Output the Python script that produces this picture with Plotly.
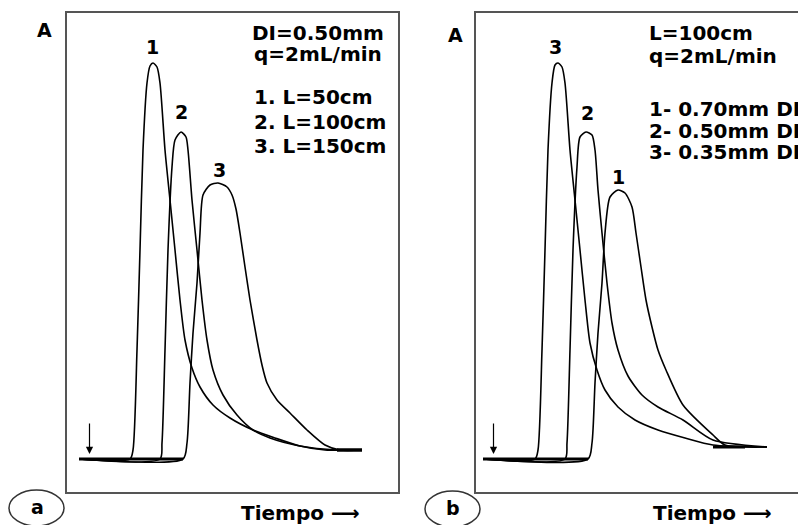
import plotly.graph_objects as go

W, H = 798, 525

# ---------------- Panel (a): DI = 0.50 mm, q = 2 mL/min, varying L ----------------
# time (arbitrary units) and absorbance (arbitrary units)
a_t1 = [0, 51, 54, 58, 61, 64, 68, 71, 74, 78, 81, 86, 91, 96, 101, 106, 113, 121, 134, 151, 174, 196, 221, 246, 283]
a_A1 = [0, 0, 9, 109, 209, 309, 376, 393, 396, 392, 376, 309, 259, 209, 159, 119, 91, 72, 54, 41, 29, 21, 13, 9, 9]

a_t2 = [0, 81, 83, 86, 89, 93, 96, 102, 107, 109, 113, 118, 123, 128, 134, 144, 158, 174, 191, 221, 258, 283]
a_A2 = [0, 0, 16, 109, 209, 292, 319, 327, 322, 309, 259, 209, 159, 119, 89, 64, 44, 29, 21, 13, 9, 9]

a_t3 = [0, 104, 108, 111, 114, 118, 121, 124, 131, 139, 148, 153, 157, 161, 166, 171, 178, 183, 188, 198, 211, 228, 246, 261, 283]
a_A3 = [0, 0, 16, 76, 126, 176, 226, 264, 274, 276, 272, 264, 250, 226, 192, 159, 119, 94, 76, 59, 46, 29, 14, 9, 9]

a_base_t = [0, 104]
a_base_A = [0, 0]
a_tail_t = [258, 283]
a_tail_A = [9, 9]

# ---------------- Panel (b): L = 100 cm, q = 2 mL/min, varying DI ----------------
b_t3 = [0, 52, 55, 59, 62, 65, 69, 72, 75, 79, 82, 87, 92, 97, 102, 107, 114, 122, 135, 152, 175, 202, 230, 284]
b_A3 = [0, 0, 9, 109, 209, 309, 376, 394, 396, 392, 376, 309, 259, 209, 159, 116, 89, 69, 52, 39, 29, 21, 14, 12]

b_t2 = [0, 82, 84, 87, 90, 94, 97, 103, 109, 112, 115, 119, 124, 129, 135, 145, 159, 175, 200, 230, 284]
b_A2 = [0, 0, 16, 109, 209, 292, 322, 327, 324, 309, 269, 226, 176, 136, 109, 83, 64, 52, 39, 19, 12]

b_t1 = [0, 105, 109, 112, 115, 119, 122, 127, 135, 142, 149, 153, 158, 163, 169, 175, 183, 200, 230, 242, 284]
b_A1 = [0, 0, 16, 76, 126, 176, 226, 262, 269, 266, 252, 226, 192, 159, 132, 109, 89, 54, 24, 14, 12]

b_base_t = [0, 105]
b_base_A = [0, 0]
b_tail_t = [230, 262]
b_tail_A = [12, 12]

# peak labels: (text, t, A)
a_peak_labels = [("1", 73, 412), ("2", 102, 347), ("3", 140, 289)]
b_peak_labels = [("3", 72, 412), ("2", 104, 346), ("1", 135, 282)]

a_info = ["DI=0.50mm", "q=2mL/min"]
a_list = ["1. L=50cm", "2. L=100cm", "3. L=150cm"]
b_info = ["L=100cm", "q=2mL/min"]
b_list = ["1- 0.70mm DI", "2- 0.50mm DI", "3- 0.35mm DI"]
x_title = "Tiempo \u27f6"
y_title = "A"

FONT = "DejaVu Sans"
INK = "black"
FRAME = "#555555"


def px(x):
    return x / W


def py(y):
    return 1 - y / H


fig = go.Figure()

curve_style = dict(color=INK, width=1.6, shape="spline", smoothing=0.7)

for t, A in [(a_t1, a_A1), (a_t2, a_A2), (a_t3, a_A3)]:
    fig.add_trace(go.Scatter(x=t, y=A, mode="lines", line=curve_style,
                             xaxis="x", yaxis="y", hoverinfo="skip"))
fig.add_trace(go.Scatter(x=a_base_t, y=a_base_A, mode="lines", line=dict(color=INK, width=3),
                         xaxis="x", yaxis="y", hoverinfo="skip"))
fig.add_trace(go.Scatter(x=a_tail_t, y=a_tail_A, mode="lines", line=dict(color=INK, width=3.5),
                         xaxis="x", yaxis="y", hoverinfo="skip"))

for t, A in [(b_t1, b_A1), (b_t2, b_A2), (b_t3, b_A3)]:
    fig.add_trace(go.Scatter(x=t, y=A, mode="lines", line=curve_style,
                             xaxis="x2", yaxis="y2", hoverinfo="skip"))
fig.add_trace(go.Scatter(x=b_base_t, y=b_base_A, mode="lines", line=dict(color=INK, width=3),
                         xaxis="x2", yaxis="y2", hoverinfo="skip"))
fig.add_trace(go.Scatter(x=b_tail_t, y=b_tail_A, mode="lines", line=dict(color=INK, width=3),
                         xaxis="x2", yaxis="y2", hoverinfo="skip"))

ax_common = dict(showgrid=False, zeroline=False, showticklabels=False, ticks="",
                 showline=True, linecolor=FRAME, linewidth=2, fixedrange=True)

fig.update_layout(
    width=W, height=H,
    margin=dict(l=0, r=0, t=0, b=0),
    paper_bgcolor="white", plot_bgcolor="white",
    showlegend=False,
    font=dict(family=FONT, color=INK),
    xaxis=dict(domain=[px(67), px(398)], range=[-12, 319], mirror=True, anchor="y", **ax_common),
    yaxis=dict(domain=[py(492), py(13)], range=[-33, 446], mirror=True, anchor="x", **ax_common),
    xaxis2=dict(domain=[px(476), 1.0], range=[-7, 315], mirror=True, anchor="y2", **ax_common),
    yaxis2=dict(domain=[py(492), py(13)], range=[-33, 446], mirror=False, anchor="x2", **ax_common),
)

ann = []
bold = dict(family=FONT, size=20, color=INK)
bold_s = dict(family=FONT, size=19, color=INK)


def note(text, x, y, xanchor="center", font=bold):
    return dict(text="<b>%s</b>" % text, x=px(x), y=py(y), xref="paper", yref="paper",
                xanchor=xanchor, yanchor="middle", showarrow=False, font=font)


# peak number labels (data coords)
for txt, t, A in a_peak_labels:
    ann.append(dict(text="<b>%s</b>" % txt, x=t, y=A, xref="x", yref="y", xanchor="center",
                    yanchor="middle", showarrow=False, font=bold_s))
for txt, t, A in b_peak_labels:
    ann.append(dict(text="<b>%s</b>" % txt, x=t, y=A, xref="x2", yref="y2", xanchor="center",
                    yanchor="middle", showarrow=False, font=bold_s))

# injection arrows
for xr, yr in [("x", "y"), ("x2", "y2")]:
    ann.append(dict(x=10.5, y=5, ax=10.5, ay=37, xref=xr, yref=yr, axref=xr, ayref=yr,
                    text="", showarrow=True, arrowhead=2, arrowsize=1.2, arrowwidth=1.2,
                    arrowcolor=INK))

# y titles
ann.append(note(y_title, 44, 30, font=bold_s))
ann.append(note(y_title, 455, 35, font=bold_s))

# panel a info
for i, s in enumerate(a_info):
    ann.append(note(s, 318, 33 + 21 * i))
for i, s in enumerate(a_list):
    ann.append(note(s, 252, 97 + 24.5 * i, xanchor="left"))
# panel b info
for i, s in enumerate(b_info):
    ann.append(note(s, 647, 33 + 23 * i, xanchor="left"))
for i, s in enumerate(b_list):
    ann.append(note(s, 647, 109 + 21.5 * i, xanchor="left"))

# x titles
ann.append(note(x_title, 239, 513, xanchor="left"))
ann.append(note(x_title, 651, 513, xanchor="left"))

# panel letters in ellipses
ann.append(note("a", 37, 507, font=bold_s))
ann.append(note("b", 453, 508, font=bold_s))

shapes = [
    dict(type="circle", xref="paper", yref="paper", x0=px(9), x1=px(64), y0=py(526), y1=py(490),
         line=dict(color="#333333", width=1.5)),
    dict(type="circle", xref="paper", yref="paper", x0=px(425), x1=px(480), y0=py(527), y1=py(491),
         line=dict(color="#333333", width=1.5)),
]

fig.update_layout(annotations=ann, shapes=shapes)
fig.write_html("out.html")
